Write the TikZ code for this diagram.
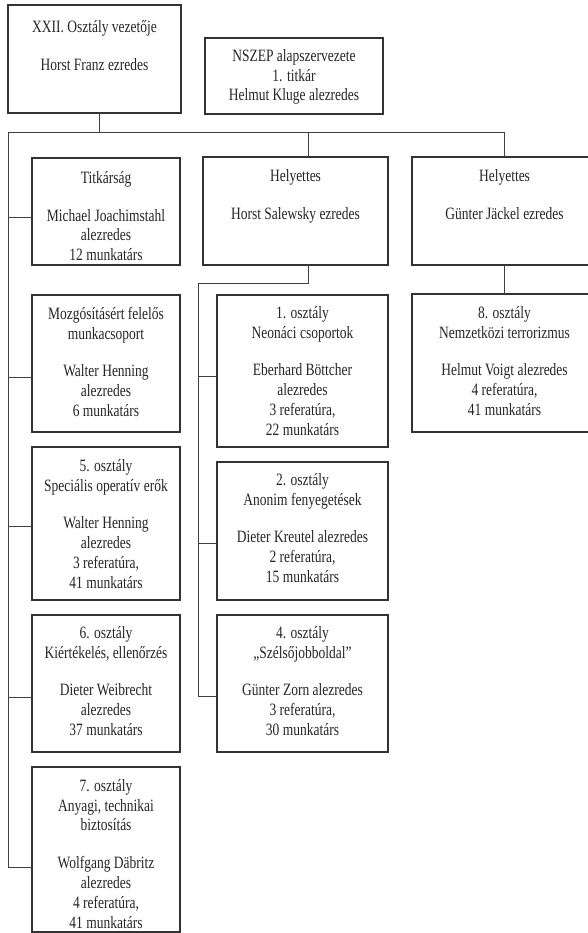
\documentclass[tikz,border=0pt]{standalone}
\usepackage{fontspec}
\setmainfont[FakeStretch=0.78]{Liberation Serif}
\begin{document}
\begin{tikzpicture}[x=1pt,y=-1pt,
  box/.style={draw=black!80, line width=1.2pt, anchor=north west, inner sep=0pt, outer sep=0pt},
  boldbox/.style={box, line width=2.4pt},
  txt/.style={anchor=north, inner xsep=0pt, inner ysep=12pt, align=center,
    font=\fontsize{17.3}{19.8}\selectfont, text=black!85},
  conn/.style={draw=black!75, line width=1pt}]
\useasboundingbox (0,0) rectangle (588,933);
\clip (0,0) rectangle (588,933);
\fill[white] (0,0) rectangle (588,933);
% boxes
\node[boldbox, minimum width=173pt, minimum height=108pt] (A) at (8,5) {};
\node[box, minimum width=178pt, minimum height=76pt] (N) at (205,38) {};
\node[box, minimum width=148pt, minimum height=107pt] (T) at (32,158) {};
\node[box, minimum width=148pt, minimum height=137pt] (M) at (32,295) {};
\node[box, minimum width=148pt, minimum height=153pt] (S5) at (32,447) {};
\node[box, minimum width=148pt, minimum height=137pt] (S6) at (32,615) {};
\node[box, minimum width=148pt, minimum height=165pt] (S7) at (32,767) {};
\node[boldbox, minimum width=185pt, minimum height=108pt] (H1) at (203,157) {};
\node[boldbox, minimum width=185pt, minimum height=108pt] (H2) at (412,157) {};
\node[box, minimum width=171pt, minimum height=152pt] (O1) at (217,295) {};
\node[box, minimum width=171pt, minimum height=138pt] (O2) at (217,462) {};
\node[box, minimum width=171pt, minimum height=137pt] (O4) at (217,615) {};
\node[box, minimum width=185pt, minimum height=138pt] (O8) at (412,294) {};
% texts
\node[txt, inner ysep=15pt] (tA) at (A.north) {XXII. Osztály vezetője\\[18pt]Horst Franz ezredes};
\node[txt, inner ysep=11pt] (tN) at (N.north) {NSZEP alapszervezete\\1. titkár\\Helmut Kluge alezredes};
\node[txt, inner ysep=13pt] (tT) at (T.north) {Titkárság\\[18pt]Michael Joachimstahl\\alezredes\\12 munkatárs};
\node[txt] (tM) at (M.north) {Mozgósításért felelős\\munkacsoport\\[18pt]Walter Henning\\alezredes\\6 munkatárs};
\node[txt] (tS5) at (S5.north) {5. osztály\\Speciális operatív erők\\[18pt]Walter Henning\\alezredes\\3 referatúra,\\41 munkatárs};
\node[txt, inner ysep=11pt] (tS6) at (S6.north) {6. osztály\\Kiértékelés, ellenőrzés\\[18pt]Dieter Weibrecht\\alezredes\\37 munkatárs};
\node[txt] (tS7) at (S7.north) {7. osztály\\Anyagi, technikai\\biztosítás\\[18pt]Wolfgang Däbritz\\alezredes\\4 referatúra,\\41 munkatárs};
\node[txt] (tH1) at (H1.north) {Helyettes\\[18pt]Horst Salewsky ezredes};
\node[txt] (tH2) at (H2.north) {Helyettes\\[18pt]Günter Jäckel ezredes};
\node[txt, inner ysep=11pt] (tO1) at (O1.north) {1. osztály\\Neonáci csoportok\\[18pt]Eberhard Böttcher\\alezredes\\3 referatúra,\\22 munkatárs};
\node[txt, inner ysep=11pt] (tO2) at (O2.north) {2. osztály\\Anonim fenyegetések\\[18pt]Dieter Kreutel alezredes\\2 referatúra,\\15 munkatárs};
\node[txt, inner ysep=11pt] (tO4) at (O4.north) {4. osztály\\„Szélsőjobboldal”\\[18pt]Günter Zorn alezredes\\3 referatúra,\\30 munkatárs};
\node[txt] (tO8) at (O8.north) {8. osztály\\Nemzetközi terrorizmus\\[18pt]Helmut Voigt alezredes\\4 referatúra,\\41 munkatárs};
% connector points
\coordinate (L0) at (8,133);
\coordinate (R0) at (H2.north |- L0);
\coordinate (M0) at (198,283);
\coordinate (bT) at ([yshift=-6.5pt]T.west);
\coordinate (bM) at ([yshift=-13.5pt]M.west);
\coordinate (bS5) at ([yshift=-2.5pt]S5.west);
\coordinate (bS6) at ([yshift=-13.5pt]S6.west);
\coordinate (bS7) at ([yshift=-17.5pt]S7.west);
\coordinate (bO1) at ([yshift=-5pt]O1.west);
\coordinate (bO2) at ([yshift=-12pt]O2.west);
\coordinate (bO4) at ([yshift=-12.5pt]O4.west);
% connectors
\draw[conn] ([xshift=4.5pt]A.south) -- ([xshift=4.5pt]A.south |- L0);
\draw[conn] (L0) -- (R0) -- (H2.north);
\draw[conn] ([xshift=12.5pt]H1.north |- L0) -- ([xshift=12.5pt]H1.north);
\draw[conn] (L0) -- (L0 |- bS7);
\draw[conn] (L0 |- bT) -- (bT);
\draw[conn] (L0 |- bM) -- (bM);
\draw[conn] (L0 |- bS5) -- (bS5);
\draw[conn] (L0 |- bS6) -- (bS6);
\draw[conn] (L0 |- bS7) -- (bS7);
\draw[conn] ([xshift=12.5pt]H1.south) |- (M0) -- (M0 |- bO4);
\draw[conn] (M0 |- bO1) -- (bO1);
\draw[conn] (M0 |- bO2) -- (bO2);
\draw[conn] (M0 |- bO4) -- (bO4);
\draw[conn] (H2.south) -- (O8.north);
\end{tikzpicture}
\end{document}
